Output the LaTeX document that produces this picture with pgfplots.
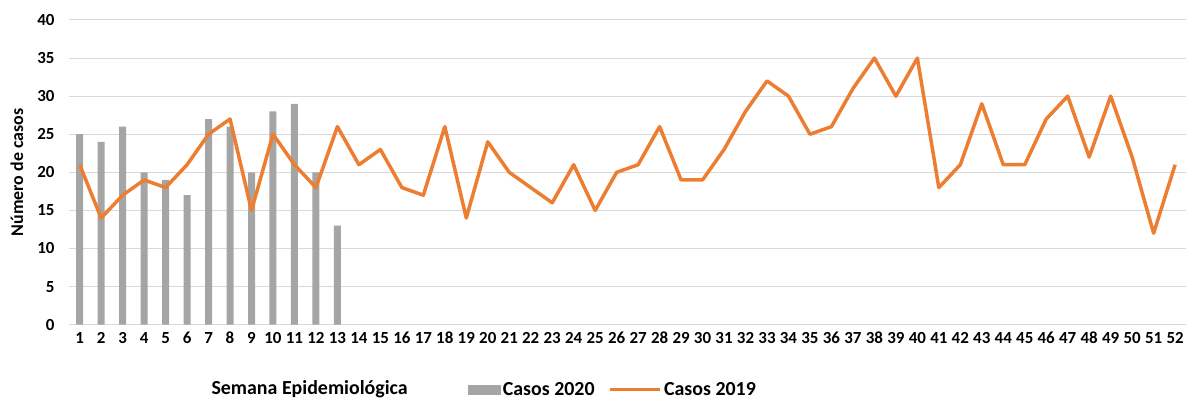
\documentclass[border=0pt]{standalone}
\usepackage{pgfplots}
\pgfplotsset{compat=1.18}
\usepackage{fontspec}
\setmainfont{Carlito}
\definecolor{bargray}{HTML}{A5A5A5}
\definecolor{lineorange}{HTML}{ED7D31}
\definecolor{gridgray}{HTML}{D9D9D9}
\begin{document}
\begin{tikzpicture}
\begin{axis}[
    name=ax,
    width=1118bp, height=305bp, scale only axis,
    xmin=0.5, xmax=52.5, ymin=0, ymax=40,
    xtick={1,...,52}, ytick={0,5,...,40},
    axis line style={draw=none}, major tick length=0pt,
    ymajorgrids, grid style={gridgray, line width=1bp},
    /pgf/number format/assume math mode=true,
    ticklabel style={font=\bfseries\fontsize{17}{17}\selectfont},
    xticklabel style={yshift=-4bp},
    yticklabel style={xshift=-11bp},
    ylabel={Número de casos},
    ylabel style={at={(axis description cs:-0.0465,0.5)}, anchor=center,
        font=\bfseries\fontsize{18}{18}\selectfont},
    xlabel={Semana Epidemiológica},
    xlabel style={at={(axis description cs:0.2155,-0.213)}, anchor=center,
        font=\bfseries\fontsize{20}{20}\selectfont},
    legend style={at={(axis description cs:0.487,-0.213)}, anchor=center,
        draw=none, legend columns=-1,
        font=\bfseries\fontsize{20}{20}\selectfont,
        /tikz/every even column/.append style={column sep=12bp}},
]
\addplot[ybar, bar width=7bp, bar shift=0pt, fill=bargray, draw=none,
    legend image code/.code={\fill[bargray] (0bp,-5bp) rectangle (33bp,5bp);}]
    coordinates {(1,25) (2,24) (3,26) (4,20) (5,19) (6,17) (7,27) (8,26)
        (9,20) (10,28) (11,29) (12,20) (13,13)};
\addplot[lineorange, line width=3.5bp, mark=none, line join=round,
    legend image code/.code={\draw[lineorange, line width=3.5bp] (0bp,0bp) -- (50bp,0bp);}]
    coordinates {(1,21) (2,14) (3,17) (4,19) (5,18) (6,21) (7,25) (8,27)
        (9,15) (10,25) (11,21) (12,18) (13,26) (14,21) (15,23) (16,18)
        (17,17) (18,26) (19,14) (20,24) (21,20) (22,18) (23,16) (24,21)
        (25,15) (26,20) (27,21) (28,26) (29,19) (30,19) (31,23) (32,28)
        (33,32) (34,30) (35,25) (36,26) (37,31) (38,35) (39,30) (40,35)
        (41,18) (42,21) (43,29) (44,21) (45,21) (46,27) (47,30) (48,22)
        (49,30) (50,22) (51,12) (52,21)};
\legend{Casos 2020, Casos 2019}
\end{axis}
\path ([shift={(-69bp,-76bp)}]ax.south west) rectangle ([shift={(0bp,20bp)}]ax.north east);
\end{tikzpicture}
\end{document}
